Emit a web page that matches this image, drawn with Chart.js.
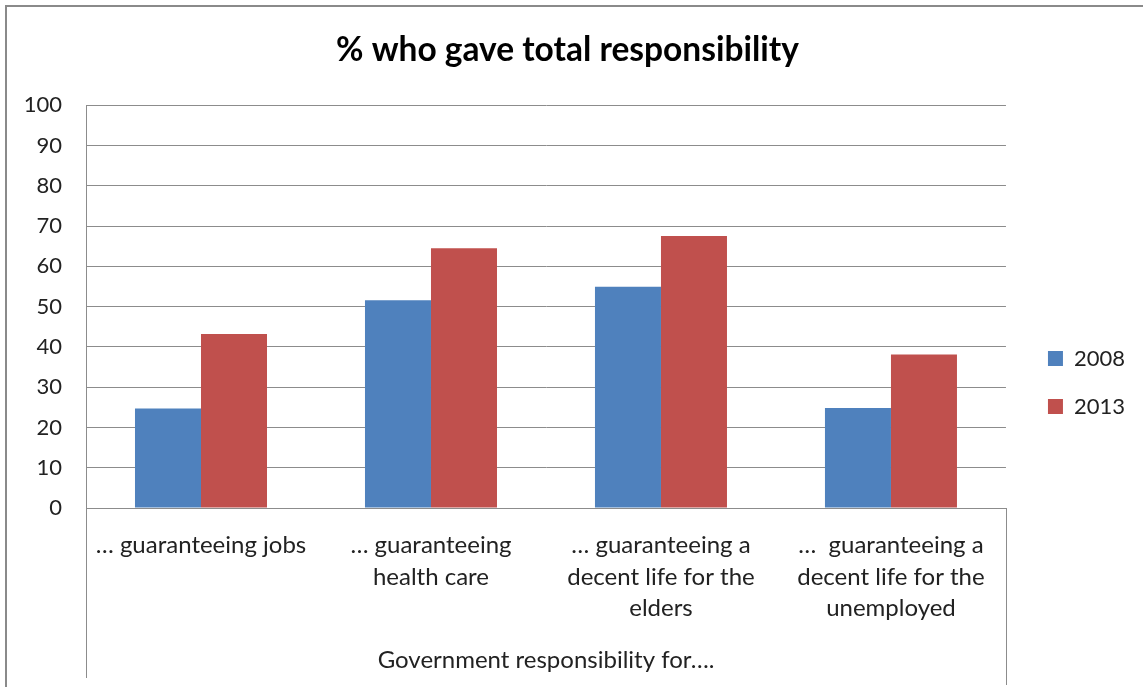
<!DOCTYPE html>
<html>
<head>
<meta charset="utf-8">
<script src="https://cdn.jsdelivr.net/npm/chart.js@4"></script>
<style>
  html, body { margin: 0; padding: 0; background: #fff; }
  #wrap { width: 1143px; height: 687px; }
</style>
</head>
<body>
<div id="wrap"><canvas id="chartpoint" width="1143" height="687"></canvas></div>
<script>
const categories = [
    ['\u2026 guaranteeing jobs'],
    ['\u2026 guaranteeing', 'health care'],
    ['\u2026 guaranteeing a', 'decent life for the', 'elders'],
    ['\u2026  guaranteeing a', 'decent life for the', 'unemployed']
];
const values2008 = [24.7, 51.6, 54.9, 24.8];
const values2013 = [43.2, 64.5, 67.5, 38.1];
const yTicks = [0, 10, 20, 30, 40, 50, 60, 70, 80, 90, 100];

const ctx = document.getElementById('chartpoint');
const fontFamily = 'Lato, "Open Sans", sans-serif';
const lineGray = '#8c8c8c';

// outer frame plus the axis lines that run down through the label area
const framePlugin = {
    id: 'frame',
    beforeDraw(chart) {
        const c = chart.ctx;
        c.save();
        c.strokeStyle = '#8a8a8a';
        c.lineWidth = 2;
        c.strokeRect(6, 6, 1300, 900);
        c.restore();
    },
    afterDraw(chart) {
        const a = chart.chartArea;
        const c = chart.ctx;
        c.save();
        c.strokeStyle = lineGray;
        c.lineWidth = 1;
        c.beginPath();
        c.moveTo(Math.round(a.left) + 0.5, a.bottom);
        c.lineTo(Math.round(a.left) + 0.5, 678);
        c.moveTo(Math.round(a.right) + 0.5, a.bottom);
        c.lineTo(Math.round(a.right) + 0.5, 685);
        c.stroke();
        c.restore();
    }
};

var chart = new Chart(ctx, {
    type: 'bar',
    data: {
        labels: categories,
        datasets: [
            {
                label: '2008',
                data: values2008,
                backgroundColor: '#4F81BD',
                borderWidth: 0,
                categoryPercentage: 0.574,
                barPercentage: 1.0
            },
            {
                label: '2013',
                data: values2013,
                backgroundColor: '#C0504D',
                borderWidth: 0,
                categoryPercentage: 0.574,
                barPercentage: 1.0
            }
        ]
    },
    options: {
        responsive: false,
        animation: false,
        devicePixelRatio: 1,
        layout: { padding: { left: 0, right: 8, top: 0, bottom: 0 } },
        scales: {
            x: {
                grid: { display: false },
                border: { display: true, color: lineGray },
                ticks: {
                    color: '#222',
                    font: { family: fontFamily, size: 24, lineHeight: 1.3 },
                    padding: 14,
                    maxRotation: 0,
                    autoSkip: false
                },
                title: {
                    display: true,
                    text: 'Government responsibility for\u2026.',
                    color: '#222',
                    font: { family: fontFamily, size: 24, lineHeight: 1.2 },
                    padding: { top: 0, bottom: 12 }
                },
                afterFit(scale) { scale.height = 179; }
            },
            y: {
                min: 0,
                max: 100,
                afterBuildTicks(scale) { scale.ticks = yTicks.map(v => ({ value: v })); },
                grid: { color: lineGray, drawTicks: false },
                border: { display: true, color: lineGray },
                ticks: {
                    color: '#222',
                    font: { family: fontFamily, size: 22 },
                    padding: 24
                },
                afterFit(scale) { scale.width = 86; }
            },
            gap: {
                position: 'right',
                display: true,
                grid: { display: false },
                border: { display: false },
                ticks: { display: false },
                afterFit(scale) { scale.width = 16; }
            }
        },
        plugins: {
            title: {
                display: true,
                text: '% who gave total responsibility',
                color: '#000',
                font: { family: fontFamily, size: 33.5, weight: 'bold', lineHeight: 1.2 },
                padding: { top: 30, bottom: 35 }
            },
            legend: {
                position: 'right',
                title: {
                    display: true,
                    text: '',
                    font: { family: fontFamily, size: 24, lineHeight: 1 },
                    padding: { top: 27, bottom: 27 }
                },
                labels: {
                    boxWidth: 15,
                    boxHeight: 15,
                    padding: 26,
                    color: '#222',
                    font: { family: fontFamily, size: 22 }
                }
            },
            tooltip: { enabled: false }
        }
    },
    plugins: [framePlugin]
});
</script>
</body>
</html>
